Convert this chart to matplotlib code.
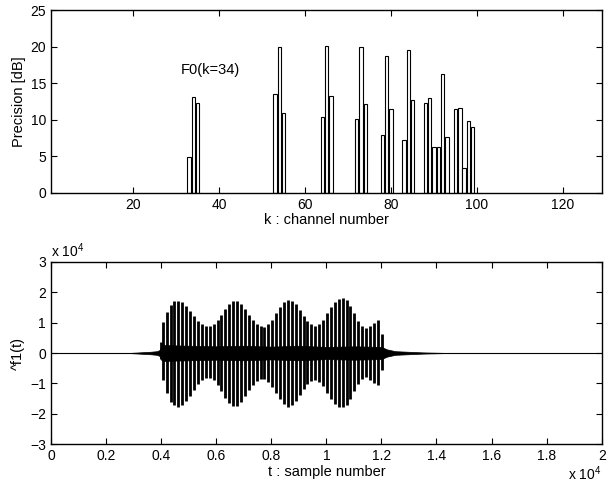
import numpy as np
import matplotlib
matplotlib.use("Agg")
import matplotlib.pyplot as plt
from matplotlib.ticker import FuncFormatter

plt.rcParams['font.family'] = ['Liberation Sans', 'DejaVu Sans']
plt.rcParams['font.size'] = 10
plt.rcParams['mathtext.fontset'] = 'custom'
plt.rcParams['mathtext.rm'] = 'Liberation Sans'
plt.rcParams['mathtext.default'] = 'regular'

# top panel: precision per channel
channels = [33, 34, 35, 53, 54, 55, 64, 65, 66, 72, 73, 74, 78, 79, 80,
            83, 84, 85, 88, 89, 90, 91, 92, 93, 95, 96, 97, 98, 99]
precision = [4.9, 13.1, 12.3, 13.5, 20.0, 10.9, 10.4, 20.1, 13.3, 10.1, 20.0, 12.2,
             7.9, 18.7, 11.5, 7.3, 19.5, 12.7, 12.3, 13.0, 6.3, 6.3, 16.3, 7.6,
             11.5, 11.6, 3.4, 9.8, 9.0]

# bottom panel: reconstructed signal, pulse peaks (units of 1e4)
pulse_t = [3990, 4060, 4202, 4344, 4486, 4628, 4770, 4912, 5054, 5196, 5338, 5480,
           5622, 5764, 5906, 6048, 6190, 6332, 6474, 6616, 6758, 6900, 7042, 7184,
           7326, 7468, 7610, 7752, 7894, 8036, 8178, 8320, 8462, 8604, 8746, 8888,
           9030, 9172, 9314, 9456, 9598, 9740, 9882, 10024, 10166, 10308, 10450,
           10592, 10734, 10876, 11018, 11160, 11302, 11444, 11586, 11728, 11870, 12012]
pulse_hi = [0.35, 1.03, 1.35, 1.58, 1.70, 1.72, 1.68, 1.55, 1.38, 1.20, 1.05, 0.95,
            0.88, 0.88, 0.95, 1.08, 1.25, 1.45, 1.62, 1.72, 1.72, 1.62, 1.45, 1.25,
            1.08, 0.95, 0.88, 0.87, 0.95, 1.10, 1.30, 1.50, 1.66, 1.75, 1.72, 1.60,
            1.40, 1.20, 1.05, 0.95, 0.90, 0.95, 1.10, 1.30, 1.50, 1.68, 1.78, 1.82,
            1.75, 1.55, 1.30, 1.05, 0.88, 0.82, 0.90, 1.00, 1.08, 0.62]
pulse_lo = [-0.20, -0.90, -1.30, -1.60, -1.72, -1.76, -1.72, -1.58, -1.40, -1.20, -1.02, -0.90,
            -0.82, -0.82, -0.90, -1.05, -1.25, -1.48, -1.65, -1.75, -1.74, -1.62, -1.42, -1.22,
            -1.05, -0.92, -0.85, -0.85, -0.95, -1.12, -1.32, -1.52, -1.68, -1.76, -1.72, -1.58,
            -1.38, -1.18, -1.02, -0.92, -0.88, -0.95, -1.10, -1.32, -1.52, -1.68, -1.76, -1.78,
            -1.70, -1.50, -1.25, -1.02, -0.85, -0.80, -0.88, -0.98, -1.05, -0.55]
core_t = [2800, 3200, 3600, 3850, 3950, 4000, 4100, 5000, 6000, 7000, 8000, 9000,
          10000, 11000, 12000, 12200, 12500, 13000, 13500, 14500]
core_amp = [0.0, 0.02, 0.04, 0.06, 0.10, 0.22, 0.26, 0.24, 0.22, 0.24, 0.21, 0.24,
            0.20, 0.22, 0.20, 0.12, 0.06, 0.04, 0.02, 0.0]


def style(ax):
    ax.tick_params(direction='in', top=True, right=True, length=4, width=0.8)
    for s in ax.spines.values():
        s.set_linewidth(1.0)


fig = plt.figure(figsize=(6.14, 4.86), dpi=100)
ax1 = fig.add_axes([0.083, 0.603, 0.897, 0.376])
ax2 = fig.add_axes([0.083, 0.0858, 0.897, 0.3757])

ax1.bar(channels, precision, width=0.8, color='white', edgecolor='black', linewidth=0.8)
ax1.set_xlim(0.9, 129)
ax1.set_ylim(0, 25)
ax1.set_xticks([20, 40, 60, 80, 100, 120])
ax1.set_yticks([0, 5, 10, 15, 20, 25])
ax1.set_xlabel('k : channel number', labelpad=1, fontsize=10.5)
ax1.set_ylabel('Precision [dB]', labelpad=3, fontsize=10.5)
ax1.text(31, 16.8, 'F0(k=34)', va='center', ha='left', fontsize=10.5)
style(ax1)

scale = 1e4
ax2.plot([0, 20000], [0, 0], color='black', linewidth=0.8)
ax2.fill_between(core_t, -np.array(core_amp) * scale, np.array(core_amp) * scale,
                 color='black', linewidth=0.5)
ax2.vlines(pulse_t, np.array(pulse_lo) * scale, np.array(pulse_hi) * scale,
           color='black', linewidth=2.0)
ax2.set_xlim(0, 20000)
ax2.set_ylim(-3e4, 3e4)
ax2.set_xticks(np.arange(0, 20001, 2000))
ax2.set_yticks(np.arange(-3e4, 3.01e4, 1e4))
fmt = FuncFormatter(lambda v, p: ('%g' % (v / scale)).replace('-', '\u2212'))
ax2.xaxis.set_major_formatter(fmt)
ax2.yaxis.set_major_formatter(fmt)
ax2.set_xlabel('t : sample number', labelpad=1, fontsize=10.5)
ax2.set_ylabel('^f1(t)', labelpad=4, fontsize=10.5)
ax2.text(0.0, 1.01, r'x 10$^{4}$', transform=ax2.transAxes, ha='left', va='bottom')
ax2.text(1.0, -0.195, r'x 10$^{4}$', transform=ax2.transAxes, ha='right', va='baseline')
style(ax2)

fig.savefig('out.png', dpi=100)
